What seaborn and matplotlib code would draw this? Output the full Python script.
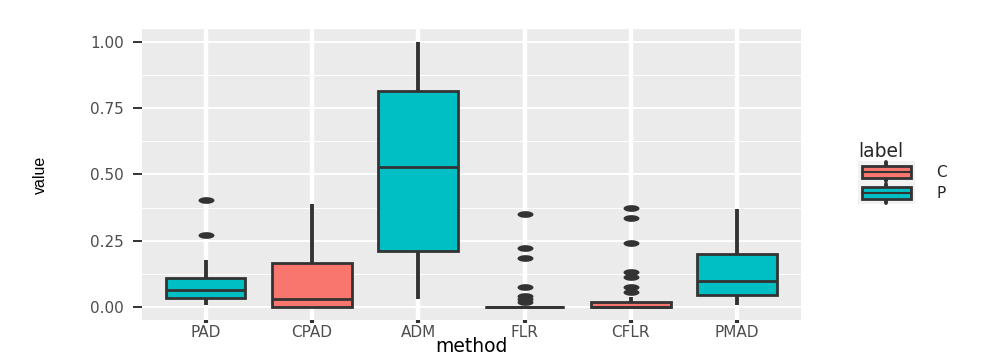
import numpy as np
import pandas as pd
import matplotlib
matplotlib.use("Agg")
import matplotlib.pyplot as plt
import seaborn as sns
from matplotlib.path import Path
from matplotlib.patches import Rectangle, Patch
from matplotlib.lines import Line2D
from matplotlib.legend_handler import HandlerBase

# ---------------- data ----------------
methods = ["PAD", "CPAD", "ADM", "FLR", "CFLR", "PMAD"]
method_labels = ["P", "C", "P", "P", "C", "P"]
label_order = ["C", "P"]
label_colors = ["#F8766D", "#00BFC4"]

pad_values = [0.006, 0.015, 0.024, 0.032, 0.042, 0.052, 0.063, 0.078, 0.094,
              0.110, 0.177, 0.272, 0.404]
cpad_values = [0.000, 0.000, 0.000, 0.012, 0.030, 0.090, 0.164, 0.260, 0.387]
adm_values = [0.028, 0.120, 0.209, 0.370, 0.529, 0.680, 0.817, 0.920, 1.000]
flr_values = [0.0, 0.0, 0.0, 0.0, 0.0, 0.0, 0.0, 0.0, 0.0, 0.0, 0.0, 0.0,
              0.0, 0.0, 0.0, 0.0, 0.0, 0.0, 0.0, 0.0, 0.0, 0.0, 0.0, 0.0,
              0.019, 0.030, 0.040, 0.075, 0.185, 0.222, 0.352]
cflr_values = [0.0, 0.0, 0.0, 0.0, 0.0, 0.0, 0.0, 0.0, 0.0, 0.0, 0.0, 0.0,
               0.0, 0.0, 0.0, 0.0, 0.0,
               0.002, 0.004, 0.006, 0.008, 0.011, 0.014, 0.017, 0.019,
               0.038, 0.057, 0.076, 0.113, 0.132, 0.242, 0.334, 0.372]
pmad_values = [0.006, 0.022, 0.044, 0.070, 0.097, 0.140, 0.198, 0.280, 0.370]

y_ticks = [0.00, 0.25, 0.50, 0.75, 1.00]
y_tick_labels = ["0.00", "0.25", "0.50", "0.75", "1.00"]
y_minor = [0.125, 0.375, 0.625, 0.875]

series = [pad_values, cpad_values, adm_values, flr_values, cflr_values, pmad_values]
rows = []
for m, lab, vals in zip(methods, method_labels, series):
    for v in vals:
        rows.append({"method": m, "label": lab, "value": v})
df = pd.DataFrame(rows)

# ---------------- style ----------------
sns.set_theme(style="white")
plt.rcParams["font.family"] = ["DejaVu Sans"]

LINE = "#333333"
fig = plt.figure(figsize=(9.97, 3.6), dpi=100)
ax = fig.add_axes([141.7 / 997, 1 - 320 / 360, (801 - 141.7) / 997, (320 - 29) / 360])
ax.set_facecolor("#EBEBEB")

# elliptical outlier marker (reference is horizontally stretched)
t = np.linspace(0, 2 * np.pi, 40)
ell = Path(np.column_stack([np.cos(t), 0.42 * np.sin(t)]), closed=True)

sns.boxplot(
    data=df, x="method", y="value", hue="label",
    order=methods, hue_order=label_order, palette=label_colors,
    dodge=False, width=0.75, linecolor=LINE, linewidth=2.0,
    showcaps=False, legend=False, saturation=1,
    flierprops=dict(marker=ell, markersize=11.5, markerfacecolor=LINE,
                    markeredgecolor=LINE, markeredgewidth=0),
    whiskerprops=dict(linewidth=2.8, color=LINE),
    medianprops=dict(linewidth=2.0, color=LINE),
    ax=ax,
)

ax.set_xlim(-0.6, len(methods) - 0.4)
ax.set_ylim(-0.05, 1.05)
ax.set_yticks(y_ticks)
ax.set_yticklabels(y_tick_labels)
ax.set_yticks(y_minor, minor=True)

ax.set_axisbelow(True)
ax.grid(False)
for yv in y_minor:
    ax.axhline(yv, color="white", lw=0.7, zorder=0.5)
for yv in y_ticks:
    ax.axhline(yv, color="white", lw=1.4, zorder=0.6)
for i in range(len(methods)):
    ax.axvline(i, color="white", lw=3.2, zorder=0.6)

for s in ax.spines.values():
    s.set_visible(False)

ax.tick_params(axis="y", which="major", length=6.5, width=1.4, color=LINE,
               pad=6.5, labelsize=11, labelcolor="#4D4D4D", left=True)
ax.tick_params(axis="y", which="minor", length=0)
ax.tick_params(axis="x", which="major", length=2.4, width=3.0, color=LINE,
               pad=1.5, labelsize=11, labelcolor="#4D4D4D", bottom=True)

ax.set_xlabel("method", fontsize=13.5, color="black")
ax.set_ylabel("value", fontsize=11.5, color="black", family=["Liberation Sans"])
ax.xaxis.set_label_coords(0.5, -0.058)
ax.yaxis.set_label_coords(-0.142, 0.5)


# ---------------- legend with ggplot-like box keys ----------------
class BoxKeyHandler(HandlerBase):
    def create_artists(self, legend, orig_handle, xdescent, ydescent,
                       width, height, fontsize, trans):
        x0, y0 = -xdescent, -ydescent
        fc = orig_handle.get_facecolor()
        bg = Rectangle((x0, y0), width, height, facecolor="#F2F2F2",
                       edgecolor="none", transform=trans)
        cx = x0 + width / 2
        wl = Line2D([cx, cx], [y0 + 0.05 * height, y0 + 0.95 * height],
                    color=LINE, lw=2.8, transform=trans)
        bx = Rectangle((x0 + 0.07 * width, y0 + 0.22 * height), 0.86 * width,
                       0.56 * height, facecolor=fc, edgecolor=LINE, lw=2.0,
                       transform=trans)
        md = Line2D([x0 + 0.07 * width, x0 + 0.93 * width],
                    [y0 + 0.5 * height, y0 + 0.5 * height],
                    color=LINE, lw=1.5, transform=trans)
        return [bg, wl, bx, md]


handles = [Patch(facecolor=c) for c in label_colors]
leg = fig.legend(
    handles, label_order, title="label",
    loc="upper left", bbox_to_anchor=(858 / 997, 1 - 142 / 360),
    frameon=False, fontsize=11, title_fontsize=13.5,
    handlelength=3.73, handleheight=1.79, labelspacing=0.0,
    handletextpad=1.38, borderpad=0, borderaxespad=0,
    alignment="left",
    handler_map={Patch: BoxKeyHandler()},
)

fig.savefig("out.png", dpi=100)
